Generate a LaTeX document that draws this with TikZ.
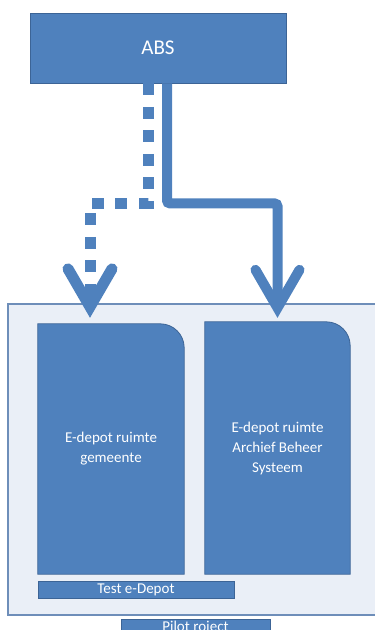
\documentclass[tikz,border=0pt]{standalone}
\usepackage{xcolor}
\usepackage{fontspec}
\setmainfont{Carlito}
\usepackage{tikz}
\usetikzlibrary{arrows.meta,calc,positioning,backgrounds}
\pgfdeclarelayer{back}
\pgfsetlayers{back,background,main}
\definecolor{officeblue}{RGB}{79,129,189}
\definecolor{officeedge}{RGB}{60,100,150}
\definecolor{pilotfill}{RGB}{234,239,247}
\definecolor{pilotedge}{RGB}{110,142,185}

\begin{document}
\begin{tikzpicture}[x=1pt,y=1pt,line cap=butt,line join=miter,
    bluebox/.style={fill=officeblue,draw=officeedge,line width=0.8pt,
      text=white,inner sep=0pt,align=center},
    depot/.style={minimum width=146pt,minimum height=250pt,inner sep=0pt,
      text=white,align=center,font=\fontsize{15}{20}\selectfont},
    flow/.style={officeblue,line width=10pt,
      -{Straight Barb[length=38pt,width=44pt,line cap=round]}}]
\useasboundingbox (0,0) rectangle (375,-630);
\clip (0,0) rectangle (375,-630);

% Source system
\node[bluebox,minimum width=256pt,minimum height=70pt,
  font=\fontsize{21}{24}\selectfont] (abs) at (158,-48) {ABS};

% Pilot area with the two depot spaces
\begin{pgfonlayer}{back}
  \node[fill=pilotfill,draw=pilotedge,line width=1.6pt,
    minimum width=377pt,minimum height=311pt] (pilot) at (196.5,-459.5) {};
\end{pgfonlayer}
\node[depot] (gem) at (111,-449) {E-depot ruimte\\gemeente};
\node[depot,minimum width=145pt,minimum height=252pt] (eba) at (277.5,-448)
  {E-depot ruimte\\Archief Beheer\\Systeem};
\begin{scope}[on background layer]
  \foreach \depotnode in {gem,eba}
    \filldraw[fill=officeblue,draw=officeedge,line width=0.8pt]
      (\depotnode.south west) -- (\depotnode.north west)
      -- ([xshift=-24pt]\depotnode.north east)
      arc[start angle=90,end angle=0,radius=24pt]
      -- (\depotnode.south east) -- cycle;
\end{scope}
\node[bluebox,minimum width=196pt,minimum height=17pt,
  font=\fontsize{15}{17}\selectfont] (test) at (136,-589.5) {Test e-Depot};
\node[bluebox,minimum width=149pt,minimum height=17pt,
  font=\fontsize{15}{17}\selectfont] (pilotlabel) at (195.5,-627.5) {Pilot roject};

% Flows from ABS
\draw[flow,line width=11pt,dash pattern=on 12pt off 11.5pt]
  ([xshift=-10pt]abs.south) -- ++(0,-120)
  -| ([xshift=-21pt,yshift=6pt]gem.north);
\draw[flow,rounded corners=3pt]
  ([xshift=9pt]abs.south) -- ++(0,-120)
  -| ([yshift=4pt]eba.north);
\end{tikzpicture}
\end{document}
